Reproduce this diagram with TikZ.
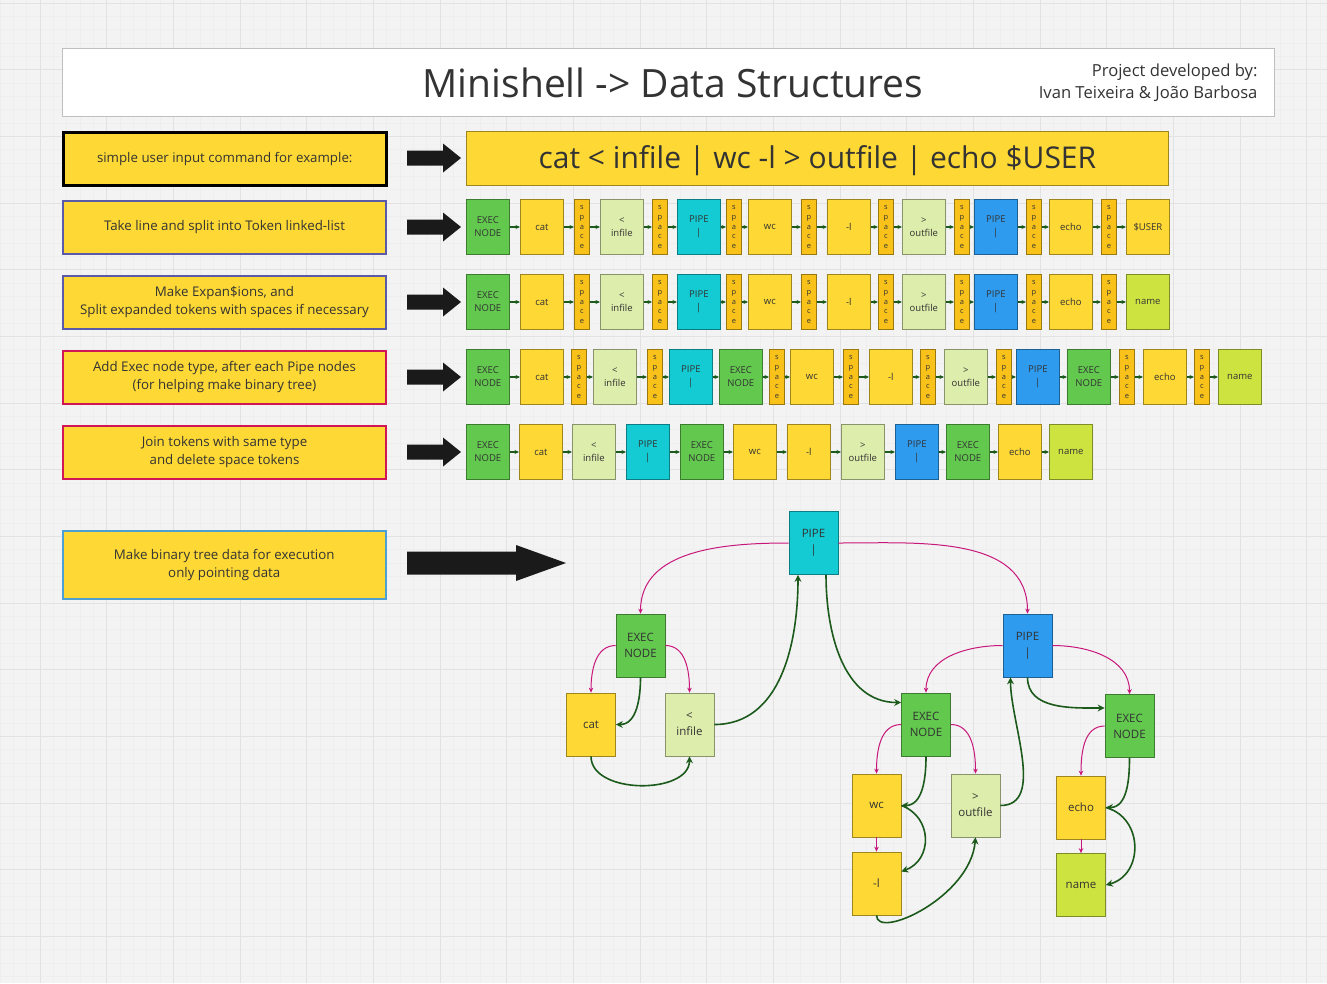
\documentclass[tikz,border=0pt]{standalone}
\usepackage{fontspec}
\setmainfont{Open Sans}
\usetikzlibrary{arrows.meta,calc}
\definecolor{cBg}{HTML}{F3F3F3}
\definecolor{cGrid}{HTML}{E2E2E2}
\definecolor{cGridm}{HTML}{EEEEEE}
\definecolor{cYel}{HTML}{FED834}
\definecolor{cOrg}{HTML}{F8C21A}
\definecolor{cEx}{HTML}{62C84E}
\definecolor{cLg}{HTML}{DDEDAB}
\definecolor{cCy}{HTML}{14CBD3}
\definecolor{cBl}{HTML}{2E9BEF}
\definecolor{cNm}{HTML}{CDE440}
\definecolor{cMag}{HTML}{C8177A}
\definecolor{cDg}{HTML}{1B5A1B}
\definecolor{cTx}{HTML}{333333}
\definecolor{cArr}{HTML}{1A1A1A}
\definecolor{cBtwo}{HTML}{5A5AA8}
\definecolor{cBfour}{HTML}{D11656}
\definecolor{cBsix}{HTML}{4FA0D2}
\newcommand\spctxt{s\\p\\a\\c\\e}
\newcommand\blkarrow[6]{\fill[cArr] (#1,#4+#5) -- (#2,#4+#5) -- (#2,#4+#6) -- (#3,#4) -- (#2,#4-#6) -- (#2,#4-#5) -- (#1,#4-#5) -- cycle;}
\newcommand\tokrow[4]{%
  \foreach \s/\xx/\tx [count=\i] in {#3} {\node[\s, anchor=west] (#1-\i) at (\xx,#2) {\tx};}
  \foreach \i [evaluate=\i as \j using int(\i+1)] in {1,...,#4} {\draw[ta] (#1-\i.east) -- (#1-\j.west);}
}
\begin{document}
\begin{tikzpicture}[x=1pt,y=1pt,
  tk/.style={draw=#1!62!black, fill=#1, line width=0.7pt, minimum width=43pt, minimum height=55pt, inner sep=0pt, align=center, text=cTx, font=\fontsize{9.5}{13}\selectfont},
  tkex/.style={tk=cEx}, tkyel/.style={tk=cYel}, tklg/.style={tk=cLg}, tkcy/.style={tk=cCy}, tkbl/.style={tk=cBl}, tknm/.style={tk=cNm},
  tkspc/.style={tk=cOrg, minimum width=15pt, font=\fontsize{7.5}{9.7}\selectfont},
  ta/.style={draw=cDg, line width=1.1pt, -{Stealth[length=4.5pt,width=4pt]}},
  tr/.style={draw=#1!62!black, fill=#1, line width=0.7pt, minimum width=49pt, minimum height=63pt, inner sep=0pt, align=center, text=cTx, font=\fontsize{11.5}{16}\selectfont},
  lbox/.style={draw=#1, fill=cYel, line width=2pt, minimum width=323pt, minimum height=53pt, inner sep=0pt, align=center, text=cTx, font=\fontsize{13.3}{18}\selectfont, anchor=north west},
  mag/.style={draw=cMag, line width=1pt, -{Stealth[length=5pt,width=4.5pt]}},
  dg/.style={draw=cDg, line width=1.6pt, -{Stealth[length=7pt,width=7pt]}},
]
\useasboundingbox (0,0) rectangle (1327,-983);
\fill[cBg] (0,0) rectangle (1327,-983);
\begin{scope}[shift={(40,-3)}]
\draw[cGridm, line width=0.5pt, step=13.3333pt] (-40,3) grid (1287,-980);
\draw[cGrid, line width=0.9pt, step=66.6667pt] (-40,3) grid (1287,-980);
\end{scope}

% title
\node[draw=black!25, fill=white, line width=1pt, minimum width=1212pt, minimum height=68pt, inner sep=0pt, anchor=north west] (tbox) at (62,-48) {};
\node[text=cTx, font=\fontsize{39}{46}\selectfont] (title) at (673,-83) {Minishell -> Data Structures};
\node[text=cTx, anchor=east, align=right, font=\fontsize{16.6}{22}\selectfont] (auth) at (1261,-83) {Project developed by:\\Ivan Teixeira \& João Barbosa};

% left boxes
\node[lbox=black, line width=2.5pt] (l1) at (62,-131) {simple user input command for example:};
\node[lbox=cBtwo] (l2) at (62,-200) {Take line and split into Token linked-list};
\node[lbox=cBtwo] (l3) at (62,-275) {Make Expan\$ions, and\\Split expanded tokens with spaces if necessary};
\node[lbox=cBfour] (l4) at (62,-350) {Add Exec node type, after each Pipe nodes\\(for helping make binary tree)};
\node[lbox=cBfour] (l5) at (62,-425) {Join tokens with same type\\and delete space tokens};
\node[lbox=cBsix, line width=1.5pt, minimum height=68pt] (l6) at (62,-530) {Make binary tree data for execution\\only pointing data};

% block arrows
\blkarrow{407}{443}{461}{-158}{7.5}{14.5}
\blkarrow{407}{443}{461}{-227}{7.5}{14.5}
\blkarrow{407}{443}{461}{-302}{7.5}{14.5}
\blkarrow{407}{443}{461}{-377}{7.5}{14.5}
\blkarrow{407}{443}{461}{-452}{7.5}{14.5}
\blkarrow{407}{516}{566}{-563}{11.5}{18}

% command
\node[draw=cYel!62!black, fill=cYel, line width=0.8pt, minimum width=702pt, minimum height=54pt, inner sep=0pt, anchor=north west] (cmd) at (466,-131) {};
\node[text=cTx, font=\fontsize{30}{36}\selectfont] (cmdtxt) at ([yshift=-2pt]cmd.center) {cat < infile | wc -l > outfile | echo \$USER};

% token rows
\tokrow{ra}{-227}{tkex/466/{EXEC\\NODE}, tkyel/520/cat, tkspc/574/\spctxt, tklg/600/{<\\infile}, tkspc/652/\spctxt, tkcy/677/{PIPE\\|}, tkspc/726/\spctxt, tkyel/748/wc, tkspc/801/\spctxt, tkyel/827/-l, tkspc/878/\spctxt, tklg/902/{>\\outfile}, tkspc/954/\spctxt, tkbl/974/{PIPE\\|}, tkspc/1026/\spctxt, tkyel/1049/echo, tkspc/1101/\spctxt, tkyel/1126/{\$USER}}{17}
\tokrow{rb}{-302}{tkex/466/{EXEC\\NODE}, tkyel/520/cat, tkspc/574/\spctxt, tklg/600/{<\\infile}, tkspc/652/\spctxt, tkcy/677/{PIPE\\|}, tkspc/726/\spctxt, tkyel/748/wc, tkspc/801/\spctxt, tkyel/827/-l, tkspc/878/\spctxt, tklg/902/{>\\outfile}, tkspc/954/\spctxt, tkbl/974/{PIPE\\|}, tkspc/1026/\spctxt, tkyel/1049/echo, tkspc/1101/\spctxt, tknm/1126/name}{17}
\tokrow{rc}{-377}{tkex/466/{EXEC\\NODE}, tkyel/520/cat, tkspc/571/\spctxt, tklg/593/{<\\infile}, tkspc/647/\spctxt, tkcy/669/{PIPE\\|}, tkex/719/{EXEC\\NODE}, tkspc/769/\spctxt, tkyel/790/wc, tkspc/843/\spctxt, tkyel/869/-l, tkspc/920/\spctxt, tklg/944/{>\\outfile}, tkspc/996/\spctxt, tkbl/1016/{PIPE\\|}, tkex/1067/{EXEC\\NODE}, tkspc/1119/\spctxt, tkyel/1143/echo, tkspc/1194/\spctxt, tknm/1218/name}{19}
\tokrow{rd}{-452}{tkex/466/{EXEC\\NODE}, tkyel/519/cat, tklg/572/{<\\infile}, tkcy/626/{PIPE\\|}, tkex/680/{EXEC\\NODE}, tkyel/733/wc, tkyel/787/-l, tklg/841/{>\\outfile}, tkbl/895/{PIPE\\|}, tkex/946/{EXEC\\NODE}, tkyel/998/echo, tknm/1049/name}{11}

% tree
\node[tr=cCy] (p1) at (813.5,-543) {PIPE\\|};
\node[tr=cEx] (e1) at (640.5,-645.5) {EXEC\\NODE};
\node[tr=cYel] (cat) at (591,-724.5) {cat};
\node[tr=cLg] (inf) at (689.5,-724.5) {<\\infile};
\node[tr=cBl] (p2) at (1027.5,-645.5) {PIPE\\|};
\node[tr=cEx] (e2) at (926,-724.5) {EXEC\\NODE};
\node[tr=cEx] (e3) at (1129.5,-726) {EXEC\\NODE};
\node[tr=cYel] (wc) at (876.5,-805.5) {wc};
\node[tr=cLg] (outf) at (975.5,-805.5) {>\\outfile};
\node[tr=cYel] (ll) at (876.5,-883.5) {-l};
\node[tr=cYel] (echo) at (1081,-807.5) {echo};
\node[tr=cNm] (nm) at (1081,-885) {name};

\draw[mag] (p1.west) to[out=180,in=90] (e1.north);
\draw[mag] (p1.east) to[out=0,in=90] (p2.north);
\draw[mag] (e1.west) to[out=180,in=90] (cat.north);
\draw[mag] (e1.east) to[out=0,in=90] (inf.north);
\draw[mag] (p2.west) to[out=180,in=90] (e2.north);
\draw[mag] (p2.east) to[out=0,in=90] (e3.north);
\draw[mag] (e2.west) to[out=180,in=90] (wc.north);
\draw[mag] (e2.east) to[out=0,in=90] (outf.north);
\draw[mag] (e3.west) to[out=180,in=90] (echo.north);
\draw[mag] (wc.south) -- (ll.north);
\draw[mag] (echo.south) -- (nm.north);

\draw[dg] (e1.south) to[out=-90,in=0] (cat.east);
\draw[dg] (cat.south) to[out=-90,in=-90] (inf.south);
\draw[dg] (inf.east) to[out=0,in=-90] ([xshift=-15.5pt]p1.south);
\draw[dg] ([xshift=12.5pt]p1.south) to[out=-90,in=180] ([yshift=22pt]e2.west);
\draw[dg] (e2.south) to[out=-90,in=0] (wc.east);
\draw[dg] (wc.east) to[out=-20,in=20,looseness=1.3] ([yshift=12pt]ll.east);
\draw[dg] (ll.south) .. controls +(0,-25) and +(-5,-60) .. (outf.south);
\draw[dg] (outf.east) to[out=0,in=-90,looseness=0.9] ([xshift=-17pt]p2.south);
\draw[dg] (p2.south) to[out=-90,in=180] ([yshift=18pt]e3.west);
\draw[dg] (e3.south) to[out=-90,in=0] (echo.east);
\draw[dg] (echo.east) to[out=-15,in=15,looseness=1.3] (nm.east);
\end{tikzpicture}
\end{document}
